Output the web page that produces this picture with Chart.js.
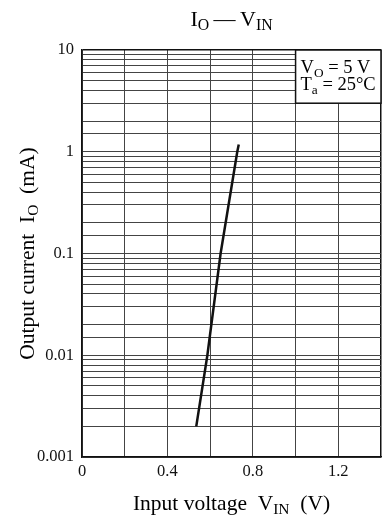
<!DOCTYPE html>
<html>
<head>
<meta charset="utf-8">
<script src="https://cdn.jsdelivr.net/npm/chart.js@4/dist/chart.umd.min.js"></script>
<style>
  html, body { margin: 0; padding: 0; background: #fff; }
  #wrap { width: 389px; height: 522px; }
</style>
</head>
<body>
<div id="wrap"><canvas id="chart"></canvas></div>
<script>
// I_O vs V_IN curve
const inputVoltage = [0.535, 0.587, 0.649, 0.727, 0.734];
const outputCurrent = [0.002, 0.01, 0.1, 1, 1.18];

// axis labels
const xLabelled = [0, 0.4, 0.8, 1.2];
const yLabelled = [0.001, 0.01, 0.1, 1, 10];

const SERIF = '"Liberation Serif", "Times New Roman", serif';

// draw text made of parts, some of them subscripts
function drawRich(ctx, parts, x, y, size, align) {
    const subSize = size * 0.72;
    let total = 0;
    parts.forEach(p => {
        ctx.font = (p.sub ? subSize : size) + 'px ' + SERIF;
        total += ctx.measureText(p.t).width;
    });
    let cx = align === 'center' ? x - total / 2 : align === 'right' ? x - total : x;
    ctx.textAlign = 'left';
    ctx.textBaseline = 'alphabetic';
    parts.forEach(p => {
        ctx.font = (p.sub ? subSize : size) + 'px ' + SERIF;
        ctx.fillText(p.t, cx, p.sub ? y + size * 0.2 : y);
        cx += ctx.measureText(p.t).width;
    });
}

const textPlugin = {
    id: 'texts',
    afterDraw(chart) {
        const { ctx, chartArea: a, scales } = chart;
        ctx.save();
        ctx.fillStyle = '#000';

        // conditions box, top right corner
        const bx = scales.x.getPixelForValue(1.0);
        const by = scales.y.getPixelForValue(3);
        ctx.fillStyle = '#fff';
        ctx.fillRect(bx, a.top, a.right - bx, by - a.top);
        ctx.strokeStyle = '#111';
        ctx.lineWidth = 1.5;
        ctx.strokeRect(bx, a.top, a.right - bx, by - a.top);
        ctx.fillStyle = '#000';
        drawRich(ctx, [{ t: 'V' }, { t: 'O', sub: true }, { t: ' = 5 V' }], bx + 5, a.top + 23, 18.5, 'left');
        drawRich(ctx, [{ t: 'T' }, { t: 'a', sub: true }, { t: ' = 25°C' }], bx + 5, a.top + 40, 18.5, 'left');

        const midX = (a.left + a.right) / 2;
        const midY = (a.top + a.bottom) / 2;

        // title
        drawRich(ctx, [{ t: 'I' }, { t: 'O', sub: true }, { t: '\u2009—\u2009' }, { t: 'V' }, { t: 'IN', sub: true }], midX, 26, 22, 'center');

        // x axis title
        drawRich(ctx, [{ t: 'Input voltage  V' }, { t: 'IN', sub: true }, { t: '  (V)' }], midX, 510, 21.5, 'center');

        // y axis title
        ctx.translate(34, midY);
        ctx.rotate(-Math.PI / 2);
        drawRich(ctx, [{ t: 'Output current  I' }, { t: 'O', sub: true }, { t: '  (mA)' }], 0, 0, 21.5, 'center');
        ctx.restore();
    }
};

const edge = (ctx, val) => ctx.tick && Math.abs(ctx.tick.value - val) < 1e-9;

new Chart(document.getElementById('chart'), {
    type: 'scatter',
    data: {
        datasets: [{
            data: inputVoltage.map((v, i) => ({ x: v, y: outputCurrent[i] })),
            showLine: true,
            borderColor: '#111',
            borderWidth: 2.5,
            pointRadius: 0,
            tension: 0
        }]
    },
    options: {
        responsive: true,
        maintainAspectRatio: false,
        animation: false,
        layout: { padding: { top: 50, right: 8, left: 0, bottom: 0 } },
        plugins: {
            legend: { display: false },
            tooltip: { enabled: false }
        },
        scales: {
            x: {
                type: 'linear',
                min: 0,
                max: 1.4,
                afterFit: s => { s.height = 65; },
                border: { color: '#111', width: 1.5 },
                grid: {
                    drawTicks: false,
                    color: c => edge(c, 1.4) ? '#111' : '#444',
                    lineWidth: c => edge(c, 1.4) ? 1.5 : 1
                },
                ticks: {
                    stepSize: 0.2,
                    padding: 5,
                    color: '#111',
                    font: { family: SERIF, size: 16.5 },
                    callback: v => xLabelled.some(t => Math.abs(t - v) < 1e-6) ? String(Math.round(v * 10) / 10) : ''
                }
            },
            y: {
                type: 'logarithmic',
                min: 0.001,
                max: 10,
                afterFit: s => { s.width = 82; },
                border: { color: '#111', width: 1.5 },
                grid: {
                    drawTicks: false,
                    color: c => edge(c, 10) ? '#111' : '#444',
                    lineWidth: c => edge(c, 10) ? 1.5 : 1
                },
                ticks: {
                    autoSkip: false,
                    padding: 8,
                    color: '#111',
                    font: { family: SERIF, size: 16.5 },
                    callback: v => {
                        const hit = yLabelled.find(t => Math.abs(t - v) / t < 1e-6);
                        return hit !== undefined ? String(hit) : '';
                    }
                }
            }
        }
    },
    plugins: [textPlugin]
});
</script>
</body>
</html>
